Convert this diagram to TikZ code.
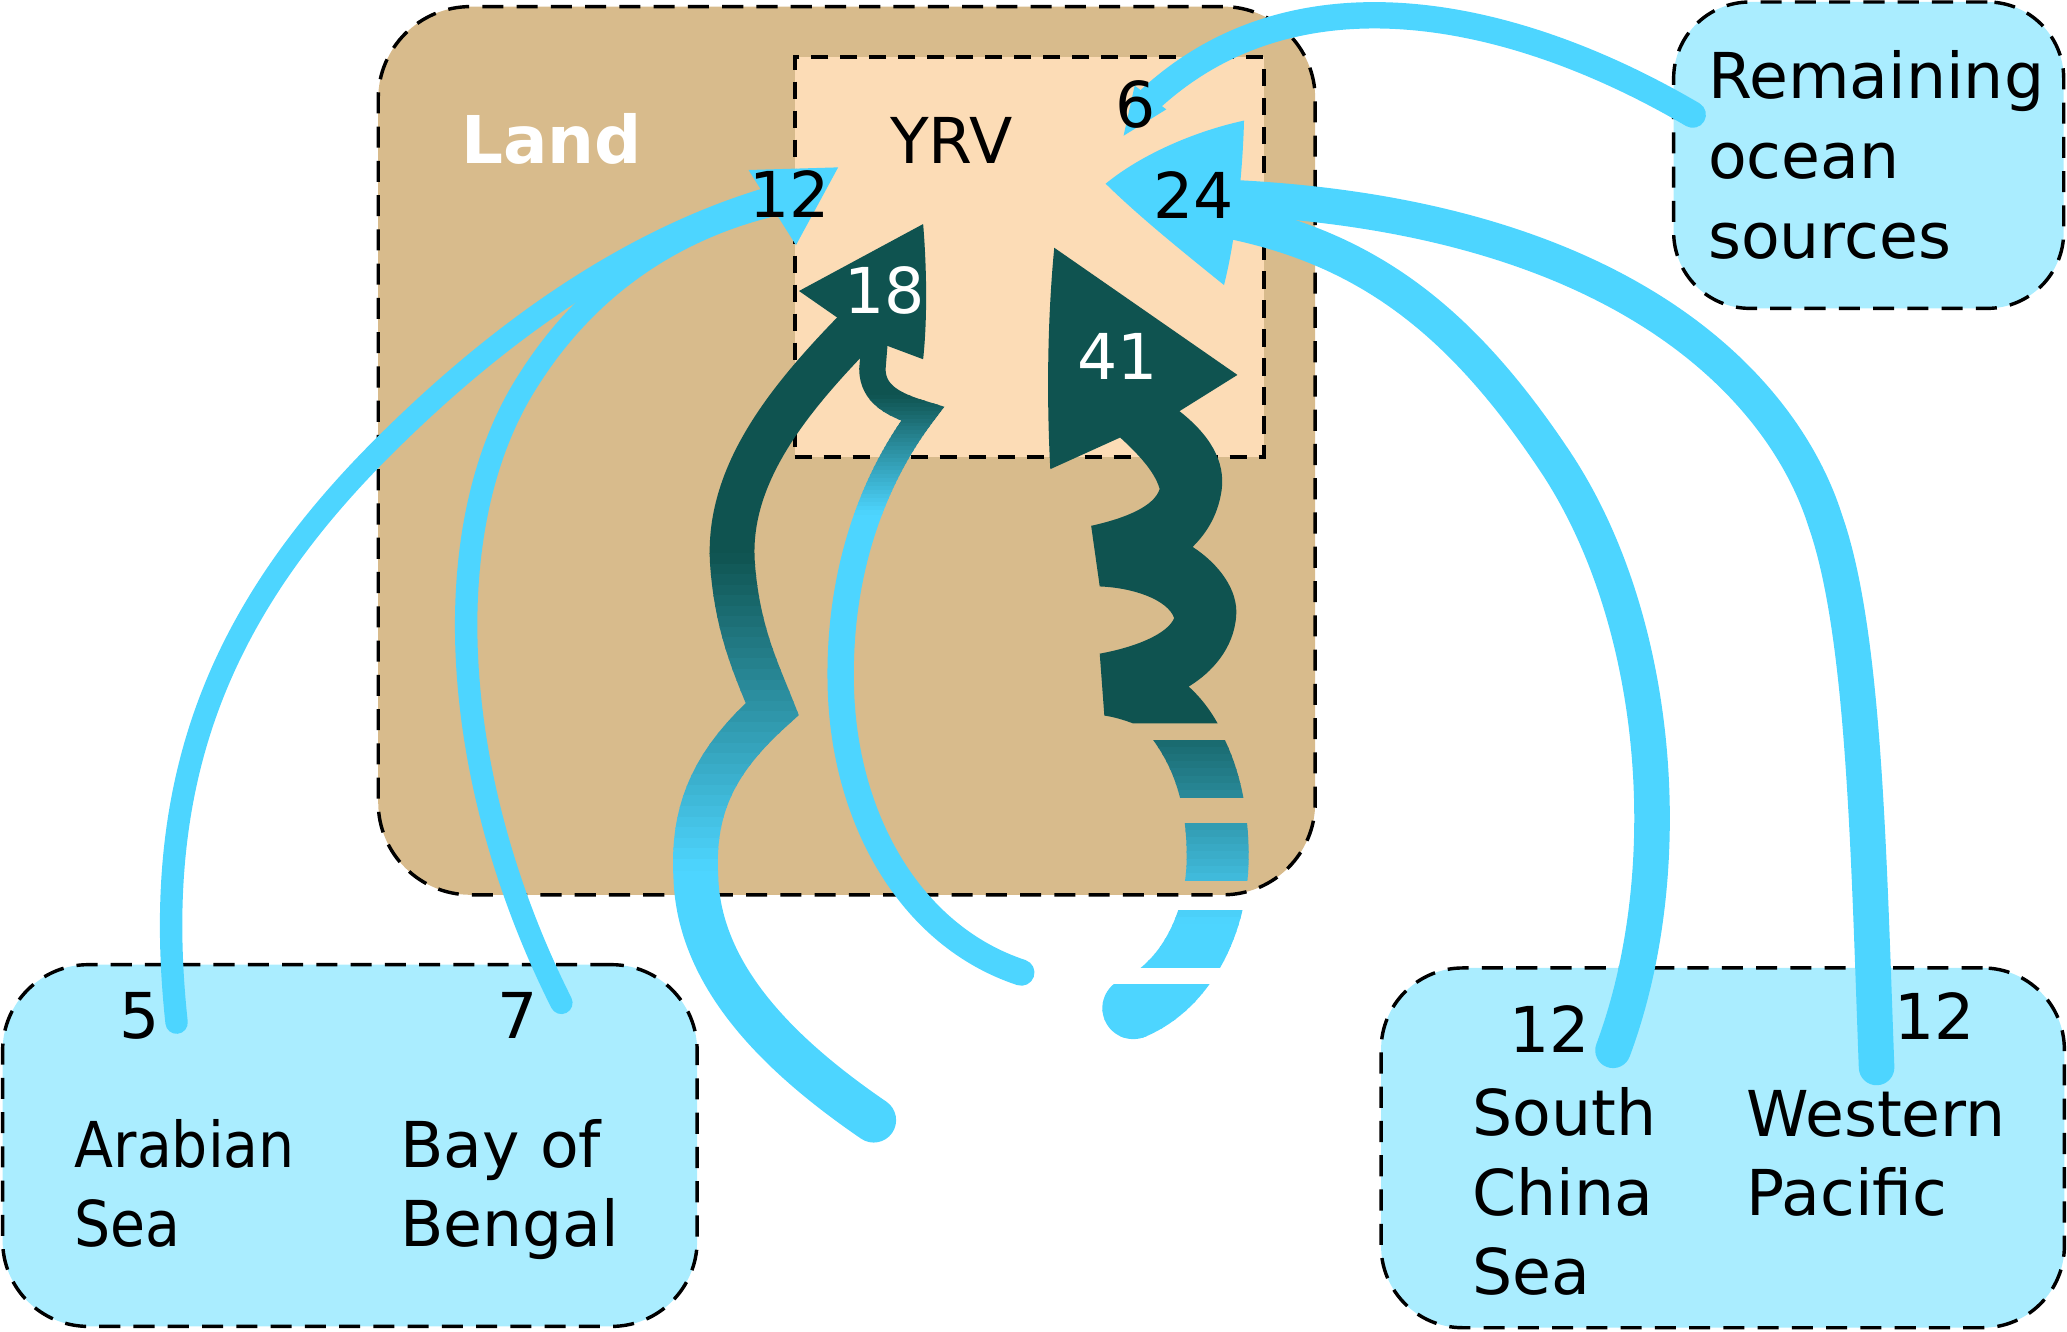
\documentclass[tikz,border=0pt]{standalone}
\usepackage{fontspec}
\setmainfont{DejaVu Sans}
\usepackage{graphicx}
\definecolor{landc}{RGB}{216,187,140}
\definecolor{yrvc}{RGB}{252,220,182}
\definecolor{oceanc}{RGB}{170,237,255}
\definecolor{cyanc}{RGB}{77,213,255}
\definecolor{tealc}{RGB}{15,83,80}
\tikzset{
  boxn/.style={shape=rectangle, inner sep=0pt, outer sep=0pt},
  dbox/.style={draw=black, line width=2.6pt, dash pattern=on 16pt off 10pt},
  yrvbox/.style={draw=black, line width=2.8pt, dash pattern=on 13pt off 9pt},
  flow/.style={draw=cyanc, line cap=round},
  lbl/.style={inner sep=0pt, anchor=base, font=\fontsize{48}{58}\selectfont},
  lblw/.style={lbl, anchor=base west},
}
\newcommand\mygradpath[5]{%
  \begin{scope}
    \clip (-10,-10) rectangle (1580,#3);
    \draw[tealc, line width=#2, #5] #1;
  \end{scope}
  \begin{scope}
    \clip (-10,#4) rectangle (1580,1020);
    \draw[cyanc, line width=#2, #5] #1;
  \end{scope}
  \foreach \k in {0,...,29}{
    \pgfmathsetmacro\ya{#3+(#4-#3)*\k/30}
    \pgfmathsetmacro\yb{#3+(#4-#3)*(\k+1)/30+0.6}
    \pgfmathsetmacro\pc{(\k+0.5)*100/30}
    \begin{scope}
      \clip (-10,\ya) rectangle (1580,\yb);
      \draw[cyanc!\pc!tealc, line width=#2, #5] #1;
    \end{scope}
  }%
}
\begin{document}
\begin{tikzpicture}[x=1pt,y=-1pt]
\useasboundingbox (0,0) rectangle (1568.5,1010);

% ---------- boxes ----------
\node[boxn, fill=landc, dbox, rounded corners=70pt, minimum width=711pt, minimum height=674pt] (land) at (642.5,342) {};
\node[boxn, fill=yrvc, yrvbox, minimum width=356pt, minimum height=303.5pt] (yrv) at (781,195.25) {};
\node[boxn, fill=oceanc, dbox, rounded corners=65pt, minimum width=527pt, minimum height=274.5pt] (oleft) at (265.5,869.25) {};
\node[boxn, fill=oceanc, dbox, rounded corners=62pt, minimum width=518.5pt, minimum height=273pt] (oright) at (1307.25,871) {};
\node[boxn, fill=oceanc, dbox, rounded corners=58pt, minimum width=296pt, minimum height=232.5pt] (orem) at (1418,117.75) {};

% ---------- named end points ----------
\coordinate (asea) at (134,776);
\coordinate (bob) at (426,761);
\coordinate (h12a) at (585,150);
\coordinate (h12b) at (585,156);
\coordinate (rem) at (1284.5,87);
\coordinate (h6) at (873,75);
\coordinate (scs) at (1224,797);
\coordinate (wp) at (1424,810);
\coordinate (h24a) at (935,150);
\coordinate (h24b) at (935,168);
\coordinate (s18) at (660,240);
\coordinate (b18) at (663,850);
\coordinate (t18) at (775,738);
\coordinate (e18) at (664,255);

% ---------- cyan flows ----------
\draw[flow, line width=17pt] (asea) .. controls (115,600) and (160,470) .. (290,340) .. controls (400,230) and (500,175) .. (h12a);
\draw[flow, line width=17pt] (bob) .. controls (340,590) and (330,400) .. (400,290) .. controls (450,210) and (520,172) .. (h12b);
\draw[flow, line width=20pt] (rem) .. controls (1150,8) and (985,-28) .. (h6);
\draw[flow, line width=27pt] (scs) .. controls (1275,660) and (1260,470) .. (1180,350) .. controls (1110,245) and (1040,190) .. (h24b);
\draw[flow, line width=27pt] (wp) .. controls (1418,650) and (1415,480) .. (1385,395) .. controls (1355,300) and (1240,165) .. (h24a);

% cyan heads
\fill[cyanc] (568,129) -- (636,127) -- (604,186) -- cycle;
\fill[cyanc] (839,139.4) .. controls (865,118) and (905,100) .. (944,91.5) .. controls (943,130) and (938,180) .. (928.8,216.3) .. controls (900,193) and (865,165) .. (839,139.4) -- cycle;
\fill[cyanc] (861,65) -- (885,83) -- (852.6,103) -- cycle;

% ---------- 18 : dark flows ----------
\mygradpath{(s18) .. controls (600,300) and (550,360) .. (556,430) .. controls (560,480) and (575,510) .. (586,538) .. controls (545,575) and (525,610) .. (528,665) .. controls (530,740) and (590,800) .. (b18)}{34pt}{420}{660}{line join=miter, line cap=round}
\mygradpath{(t18) .. controls (690,710) and (640,620) .. (638,520) .. controls (636,430) and (665,360) .. (700,314) .. controls (680,308) and (662,300) .. (662,280) -- (e18)}{20pt}{300}{390}{line join=miter, line cap=round}
\fill[tealc] (606.3,220.8) -- (700.5,170) .. controls (703,200) and (704,240) .. (700.5,272.6) -- (671.7,261.8) -- (655,248) -- (636.1,241.5) -- cycle;

% ---------- 41 : dark flow ----------
\foreach \ya/\yb in {562/605,625/668,691/734,747/800}{
  \foreach \k in {0,...,7}{
    \pgfmathsetmacro\yc{\ya+(\yb-\ya)*\k/8}
    \pgfmathsetmacro\yd{\ya+(\yb-\ya)*(\k+1)/8+0.5}
    \pgfmathsetmacro\pc{min(100,max(0,((\yc+\yd)/2-535)/165*100))}
    \begin{scope}
      \clip (780,\yc) rectangle (1000,\yd);
      \draw[cyanc!\pc!tealc, line width=47pt, line cap=round] (892,545) .. controls (915,575) and (924,610) .. (924,650) .. controls (924,700) and (900,748) .. (860,765);
    \end{scope}
  }
}
\fill[tealc] (800,188) -- (939,284.5) -- (895,312) .. controls (918,330) and (930,350) .. (927,372) .. controls (924,392) and (915,405) .. (905,415) .. controls (925,428) and (940,448) .. (938,468) .. controls (936,492) and (920,510) .. (902,521) .. controls (912,530) and (919,540) .. (924,549) -- (860,549) .. controls (852,546) and (845,544) .. (838,543) -- (834.5,496) .. controls (862,491) and (886,481) .. (891,469) .. controls (886,455) and (860,446) .. (834.5,445) -- (828,399) .. controls (855,393) and (876,384) .. (880,371) .. controls (876,357) and (862,343) .. (850,332) -- (797,356) .. controls (794,300) and (795,240) .. (800,188) -- cycle;

% ---------- texts ----------
\node[lblw, text=white, font=\fontsize{50}{60}\selectfont\bfseries] (lland) at (350,124.4) {Land};
\node[lbl] (lyrv) at (722,123.9) {YRV};
\node[lbl] (n6) at (862,97) {6};
\node[lbl] (n12) at (599,164.9) {12};
\node[lbl] (n24) at (906,165.8) {24};
\node[lbl, text=white] (n18) at (671,237.7) {18};
\node[lbl, text=white] (n41) at (848,287.6) {41};

\node[lblw] (rem1) at (1296,75.1) {Remaining};
\node[lblw] (rem2) at (1296,135.8) {ocean};
\node[lblw] (rem3) at (1296,196.3) {sources};

\node[lbl] (n5) at (105.8,788.3) {5};
\node[lbl] (n7) at (393,788.3) {7};
\node[lblw] (as1) at (56.5,886) {\scalebox{0.9}[1]{Arabian}};
\node[lblw] (as2) at (56.5,946) {\scalebox{0.9}[1]{Sea}};
\node[lblw] (bb1) at (303.6,886) {Bay of};
\node[lblw] (bb2) at (303.6,946) {Bengal};

\node[lbl] (n12s) at (1176,798.7) {12};
\node[lbl] (n12w) at (1467.8,788.6) {12};
\node[lblw] (sc1) at (1117,862) {South};
\node[lblw] (sc2) at (1117,922.2) {China};
\node[lblw] (sc3) at (1117,982.5) {Sea};
\node[lblw] (wp1) at (1325,862.2) {Western};
\node[lblw] (wp2) at (1325,922.5) {Pacific};
\end{tikzpicture}
\end{document}
